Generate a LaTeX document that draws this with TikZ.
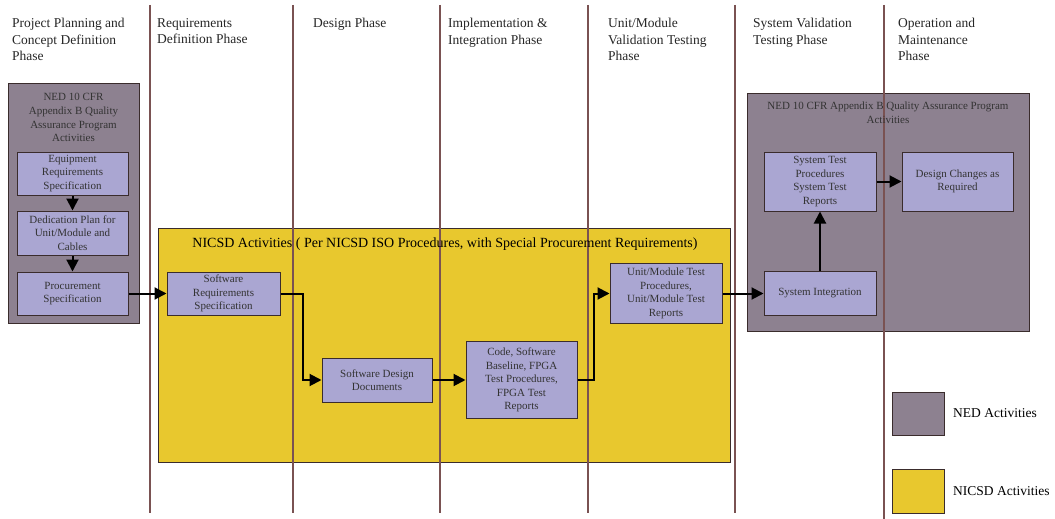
\documentclass[tikz,border=0pt]{standalone}
\usepackage{fontspec}
\setmainfont{Liberation Serif}
\usetikzlibrary{arrows.meta}

\definecolor{nedgrey}{HTML}{8D8190}
\definecolor{nicsdyellow}{HTML}{E8C82E}
\definecolor{actblue}{HTML}{AAA6D2}
\definecolor{phaseline}{HTML}{7A5252}
\definecolor{edgedark}{HTML}{3A2C2C}

\begin{document}
\begin{tikzpicture}[x=1pt, y=-1pt,
    phase/.style={anchor=north west, font=\fontsize{13.5}{16.5}\selectfont, align=left, inner sep=0pt, text=black!85},
    divider/.style={phaseline, line width=1.1pt},
    nedbox/.style={fill=nedgrey, draw=edgedark, line width=0.8pt},
    nicsdbox/.style={fill=nicsdyellow, draw=edgedark, line width=0.8pt},
    grouptitle/.style={font=\fontsize{11}{13.8}\selectfont, align=center, inner sep=0pt, text=black!80},
    activity/.style={fill=actblue, draw=edgedark, line width=1pt, align=center,
        font=\fontsize{11}{13.5}\selectfont, inner sep=1pt, text=black!80},
    flow/.style={line width=2pt, -{Triangle[length=12pt, width=12pt]}},
    legendtext/.style={font=\fontsize{13.5}{16}\selectfont, anchor=west, inner sep=0pt},
]
\useasboundingbox (0,0) rectangle (1055,519);

% --- group backgrounds ---
\node[nedbox, minimum width=131pt, minimum height=240pt] (nedL) at (73.5,203) {};
\node[nicsdbox, minimum width=572pt, minimum height=234pt] (nicsd) at (444,345) {};
\node[nedbox, minimum width=282pt, minimum height=238pt] (nedR) at (888,212) {};

% Phase dividers (drawn over the groups)
\foreach \px in {150,293,440,588,735} {
    \draw[divider] (\px,5) -- (\px,513);
}
\draw[divider] (884,5) -- (884,519);

% Phase headings
\node[phase] (ph1) at (12,18) {Project Planning and\\Concept Definition\\Phase};
\node[phase] (ph2) at (157,18) {Requirements\\Definition Phase};
\node[phase] (ph3) at (313,18) {Design Phase};
\node[phase] (ph4) at (448,18) {Implementation \&\\Integration Phase};
\node[phase] (ph5) at (608,18) {Unit/Module\\Validation Testing\\Phase};
\node[phase] (ph6) at (753,18) {System Validation\\Testing Phase};
\node[phase] (ph7) at (898,18) {Operation and\\Maintenance\\Phase};

% Group titles
\node[grouptitle, anchor=north] (nedLtitle) at (73.5,93) {NED 10 CFR\\Appendix B Quality\\Assurance Program\\Activities};
\node[font=\fontsize{14}{16}\selectfont, inner sep=0pt] (nicsdtitle) at (445,244)
    {NICSD Activities ( Per NICSD ISO Procedures, with Special Procurement Requirements)};
\node[grouptitle, anchor=north] (nedRtitle) at (888,102) {NED 10 CFR Appendix B Quality Assurance Program\\Activities};

% --- NED (left) ---
\node[activity, minimum width=111pt, minimum height=43pt] (eqreq) at (72.5,173.5) {Equipment\\Requirements\\Specification};
\node[activity, minimum width=111pt, minimum height=44pt] (dedplan) at (72.5,233) {Dedication Plan for\\Unit/Module and\\Cables};
\node[activity, minimum width=111pt, minimum height=43pt] (proc) at (72.5,293.5) {Procurement\\Specification};

% --- NICSD ---
\node[activity, minimum width=113pt, minimum height=43pt] (srs) at (223.5,293.5) {Software\\Requirements\\Specification};
\node[activity, minimum width=110pt, minimum height=44pt] (sdd) at (377,380) {Software Design\\Documents};
\node[activity, minimum width=111pt, minimum height=77pt] (code) at (521.5,380) {Code, Software\\Baseline, FPGA\\Test Procedures,\\FPGA Test\\Reports};
\node[activity, minimum width=112pt, minimum height=60pt] (unit) at (666,293.5) {Unit/Module Test\\Procedures,\\Unit/Module Test\\Reports};

% --- NED (right) ---
\node[activity, minimum width=112pt, minimum height=44pt] (sysint) at (820,293.5) {System Integration};
\node[activity, minimum width=112pt, minimum height=59pt] (systest) at (820,181.5) {System Test\\Procedures\\System Test\\Reports};
\node[activity, minimum width=111pt, minimum height=59pt] (dchg) at (957.5,181.5) {Design Changes as\\Required};

% Flow
\draw[flow] (eqreq) -- (dedplan);
\draw[flow] (dedplan) -- (proc);
\draw[flow] (proc) -- (srs);
\draw[flow] (srs.east) -- ++(22,0) |- (sdd.west);
\draw[flow] (sdd) -- (code);
\draw[flow] (code.east) -- ++(16,0) |- (unit.west);
\draw[flow] (unit) -- (sysint);
\draw[flow] (sysint) -- (systest);
\draw[flow] (systest) -- (dchg);

% Legend
\node[nedbox, minimum width=52pt, minimum height=43pt] (legned) at (918,413.5) {};
\node[legendtext] (legnedtext) at (953,413.5) {NED Activities};
\node[nicsdbox, minimum width=52pt, minimum height=44pt] (legnicsd) at (918,491) {};
\node[legendtext] (legnicsdtext) at (953,491) {NICSD Activities};

\end{tikzpicture}
\end{document}
